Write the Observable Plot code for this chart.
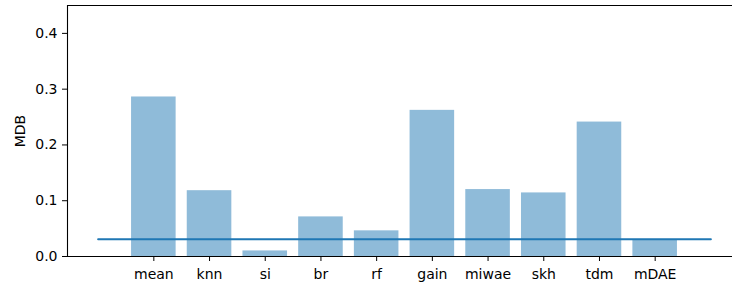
<!DOCTYPE html>
<html>
<head>
<meta charset="utf-8">
<script src="https://cdn.jsdelivr.net/npm/d3@7"></script>
<script src="https://cdn.jsdelivr.net/npm/@observablehq/plot@0.6"></script>
<style>
  html, body { margin: 0; padding: 0; background: #fff; overflow: hidden; width: 732px; height: 289px; }
  #chart { width: 732px; height: 289px; overflow: hidden; }
  #chart svg { display: block; max-width: none !important; width: 744px !important; height: 289px !important; }
</style>
</head>
<body>
<div id="chart"></div>
<script>
const categories = ["mean", "knn", "si", "br", "rf", "gain", "miwae", "skh", "tdm", "mDAE"];
const mdbValues = [0.286, 0.118, 0.010, 0.071, 0.046, 0.262, 0.120, 0.114, 0.241, 0.030];
const referenceValue = 0.031;
const referenceSpan = [-1, 10];
const yTicks = [0, 0.1, 0.2, 0.3, 0.4];

const bars = categories.map((name, i) => ({name, i, value: mdbValues[i]}));
const refLine = referenceSpan.map(x => ({x, y: referenceValue}));
const barHalf = 0.4;
const xMin = -1.55, xMax = 10.46, yMax = 0.45;

const chart = Plot.plot({
  width: 744,
  height: 289,
  marginLeft: 67,
  marginRight: 8,
  marginTop: 5,
  marginBottom: 33,
  style: {fontFamily: "DejaVu Sans", fontSize: "14px", color: "#000", background: "#fff"},
  x: {domain: [xMin, xMax]},
  y: {domain: [0, yMax]},
  marks: [
    Plot.rectY(bars, {x1: d => d.i - barHalf, x2: d => d.i + barHalf, y: "value", fill: "#1f77b4", fillOpacity: 0.5}),
    Plot.line(refLine, {x: "x", y: "y", stroke: "#1f77b4", strokeWidth: 2}),
    Plot.ruleY([0, yMax], {stroke: "#000", strokeWidth: 1.1}),
    Plot.ruleX([xMin], {stroke: "#000", strokeWidth: 1.1}),
    Plot.axisX({ticks: categories.map((_, i) => i), tickFormat: i => categories[i], tickSize: 5, tickPadding: 8, label: null, fontSize: 14}),
    Plot.axisY({ticks: yTicks, tickFormat: d3.format(".1f"), tickSize: 5, tickPadding: 5, label: "MDB", labelAnchor: "center", labelArrow: "none", labelOffset: 52, fontSize: 14})
  ]
});
document.getElementById("chart").appendChild(chart);
</script>
</body>
</html>
